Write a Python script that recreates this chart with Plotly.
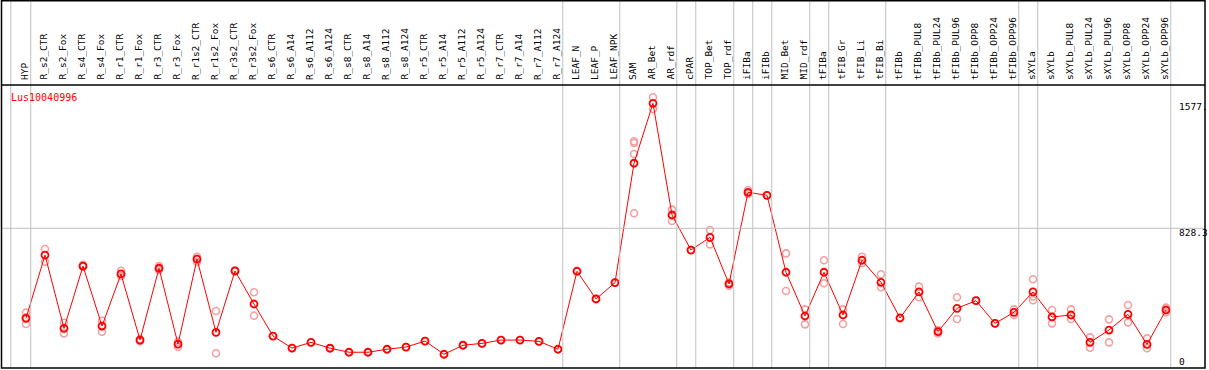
import plotly.graph_objects as go

# ---------------- data ----------------
gene = "Lus10040996"

categories = [
    "HYP", "R_s2_CTR", "R_s2_Fox", "R_s4_CTR", "R_s4_Fox", "R_r1_CTR", "R_r1_Fox",
    "R_r3_CTR", "R_r3_Fox", "R_r1s2_CTR", "R_r1s2_Fox", "R_r3s2_CTR", "R_r3s2_Fox",
    "R_s6_CTR", "R_s6_A14", "R_s6_A112", "R_s6_A124", "R_s8_CTR", "R_s8_A14",
    "R_s8_A112", "R_s8_A124", "R_r5_CTR", "R_r5_A14", "R_r5_A112", "R_r5_A124",
    "R_r7_CTR", "R_r7_A14", "R_r7_A112", "R_r7_A124", "LEAF_N", "LEAF_P", "LEAF_NPK",
    "SAM", "AR_Bet", "AR_rdf", "cPAR", "TOP_Bet", "TOP_rdf", "iFIBa", "iFIBb",
    "MID_Bet", "MID_rdf", "tFIBa", "tFIB_Gr", "tFIB_Li", "tFIB_Bi", "tFIBb",
    "tFIBb_PUL8", "tFIBb_PUL24", "tFIBb_PUL96", "tFIBb_OPP8", "tFIBb_OPP24",
    "tFIBb_OPP96", "sXYLa", "sXYLb", "sXYLb_PUL8", "sXYLb_PUL24", "sXYLb_PUL96",
    "sXYLb_OPP8", "sXYLb_OPP24", "sXYLb_OPP96",
]

means = [
    289, 668, 229, 602, 243, 555, 159, 589, 135, 644, 205, 573, 375,
    183, 111, 145, 110, 86, 86, 104, 117, 153, 74, 128, 139,
    159, 159, 151, 104, 571, 405, 503,
    1218, 1577, 908, 698, 774, 495, 1044, 1026,
    565, 303, 565, 309, 637, 505, 291,
    447, 209, 349, 395, 259, 325,
    447, 297, 309, 145, 219, 313, 133, 339,
]

replicates = [
    [323, 295, 255], [704, 628], [263, 199], [610, 598], [275, 209], [574, 543],
    [165, 152], [602, 579], [149, 119], [658, 628], [333, 80], [576, 570], [445, 305],
    [183], [111], [145], [110], [86], [86], [104], [117], [153], [74], [128], [139],
    [159], [159], [151], [104], [571], [405], [503],
    [1350, 1340, 1273, 918], [1613, 1543], [940, 905, 872], [698], [818, 732],
    [503, 485], [1058, 1034], [1026],
    [678, 453], [343, 253], [637, 499], [343, 255], [658, 619], [553, 475], [291],
    [479, 415], [219, 199], [415, 285], [395], [259], [343, 309],
    [523, 420, 397], [339, 259], [343, 285], [175, 113], [283, 145], [369, 265],
    [169, 110], [353, 325],
]

# last category of each tissue group (a separator follows it)
group_ends = ["HYP", "R_r7_A124", "LEAF_NPK", "AR_rdf", "cPAR", "TOP_rdf", "iFIBa",
              "iFIBb", "MID_rdf", "tFIBa", "tFIB_Bi", "tFIBb_OPP96", "sXYLa",
              "sXYLb_OPP96"]

y_ticks = [0, 828.3, 1577]
y_tick_text = ["0", "828.3", "1577."]

# ---------------- layout geometry (pixels) ----------------
W, H = 1209, 370
X0_PX, DX_PX = 26.0, 19.0          # pixel of first category, category spacing
Y0_PX, PX_PER_UNIT = 366.6, 0.16697  # pixel of value 0, pixels per unit
HEADER_PX = 85
BOTTOM_PX = 368
RIGHT_PX = 1205

def py(p):  # pixel y -> paper y
    return 1 - p / H

def px(p):  # pixel x -> paper x
    return p / W

idx = list(range(len(categories)))

fig = go.Figure()

rx, ry = [], []
for i, reps in enumerate(replicates):
    for v in reps:
        rx.append(i)
        ry.append(v)

fig.add_trace(go.Scatter(
    x=rx, y=ry, mode="markers", hoverinfo="skip",
    marker=dict(symbol="circle-open", size=7, color="#f2a0a0",
                line=dict(width=1.6, color="#f2a0a0")),
))
fig.add_trace(go.Scatter(
    x=idx, y=means, mode="lines+markers",
    line=dict(color="#ff0000", width=1),
    marker=dict(symbol="circle-open", size=7, color="#ff0000",
                line=dict(width=1.8, color="#ff0000")),
    text=categories, hovertemplate="%{text}: %{y}<extra></extra>",
))

shapes = []
grey = "#c0c0c0"
# vertical separators
sep_positions = [-0.8] + [categories.index(c) + 0.25 for c in group_ends]
for s in sep_positions:
    shapes.append(dict(type="line", xref="x", yref="paper", x0=s, x1=s,
                       y0=py(BOTTOM_PX), y1=1, line=dict(color=grey, width=1)))
# horizontal grid at middle tick
shapes.append(dict(type="line", xref="paper", yref="y", x0=px(1.5), x1=px(RIGHT_PX),
                   y0=y_ticks[1], y1=y_ticks[1], line=dict(color=grey, width=1)))
# header separator
shapes.append(dict(type="line", xref="paper", yref="paper", x0=px(1.5), x1=px(RIGHT_PX),
                   y0=py(HEADER_PX), y1=py(HEADER_PX), line=dict(color="black", width=1.5)))
# outer frame
shapes.append(dict(type="rect", xref="paper", yref="paper", x0=px(1.5), x1=px(RIGHT_PX),
                   y0=py(BOTTOM_PX), y1=py(0.8), line=dict(color="black", width=1.5)))

annotations = []
font = "DejaVu Sans Mono"
for i, c in enumerate(categories):
    annotations.append(dict(
        x=i, y=py(HEADER_PX - 3), xref="x", yref="paper", text=c, textangle=-90,
        showarrow=False, xanchor="center", yanchor="bottom", xshift=-1.5,
        font=dict(family=font, size=9.5, color="black"),
    ))
shifts = [5, -4, -3.5]
for v, t, s in zip(y_ticks, y_tick_text, shifts):
    annotations.append(dict(
        x=px(1177), y=v, xref="paper", yref="y", text=t, showarrow=False,
        xanchor="left", yanchor="middle", yshift=s,
        font=dict(family=font, size=9.5, color="black"),
    ))
annotations.append(dict(
    x=px(9), y=py(97), xref="paper", yref="paper", text=gene, showarrow=False,
    xanchor="left", yanchor="middle",
    font=dict(family=font, size=10, color="#ff0000"),
))

fig.update_layout(
    width=W, height=H, margin=dict(l=0, r=0, t=0, b=0, pad=0),
    paper_bgcolor="white", plot_bgcolor="white", showlegend=False,
    xaxis=dict(visible=False, range=[-X0_PX / DX_PX, (W - X0_PX) / DX_PX]),
    yaxis=dict(visible=False, range=[(Y0_PX - H) / PX_PER_UNIT, Y0_PX / PX_PER_UNIT]),
    shapes=shapes, annotations=annotations,
)

fig.write_html("out.html", config={"displayModeBar": False},
               post_script="document.body.style.margin='0';document.body.style.overflow='hidden';")
